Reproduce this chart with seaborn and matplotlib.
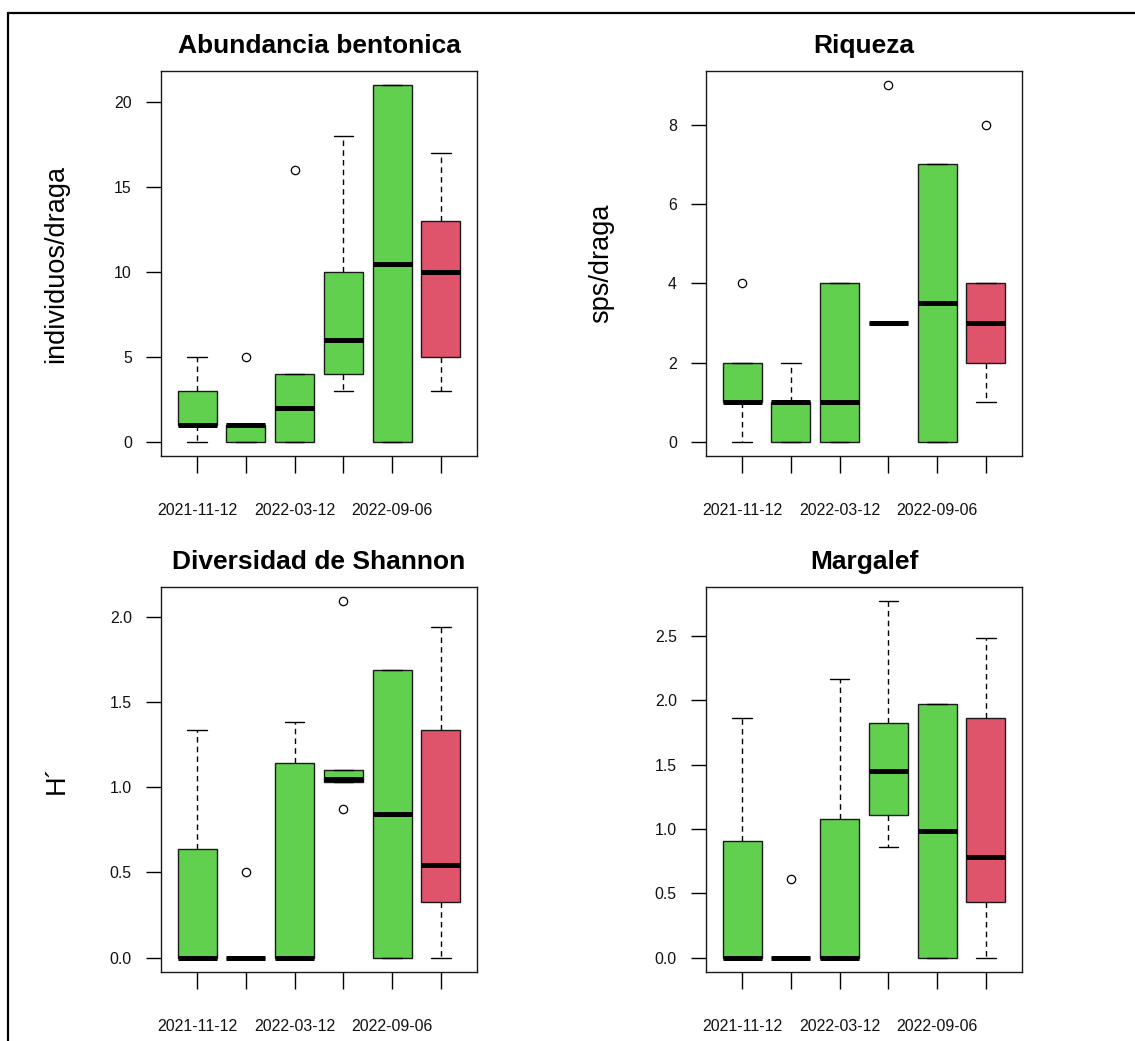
import pandas as pd
import seaborn as sns
import matplotlib.pyplot as plt
from matplotlib.lines import Line2D
from matplotlib.ticker import FixedLocator

# sampling dates (only every other one gets a visible label, as in the original)
fechas = ["2021-11-12", "f2", "2022-03-12", "f4", "2022-09-06", "f6"]
etiquetas = ["2021-11-12", "", "2022-03-12", "", "2022-09-06", ""]
colores = ["#61D04F", "#61D04F", "#61D04F", "#61D04F", "#61D04F", "#DF536B"]

# values per draga, one list per date
abundancia = [[0, 1, 1, 3, 5], [0, 0, 1, 1, 5], [0, 0, 2, 4, 16],
              [3, 4, 6, 10, 18], [0, 0, 10.5, 21, 21], [3, 5, 10, 13, 17]]
riqueza = [[0, 1, 1, 2, 4], [0, 0, 1, 1, 2], [0, 0, 1, 4, 4],
           [3, 3, 3, 3, 9], [0, 0, 3.5, 7, 7], [1, 2, 3, 4, 8]]
shannon = [[0, 0, 0, 0.636, 1.335], [0, 0, 0, 0, 0.5], [0, 0, 0, 1.14, 1.384],
           [0.87, 1.033, 1.05, 1.10, 2.09], [0, 0, 0.843, 1.685, 1.685],
           [0, 0.327, 0.541, 1.335, 1.937]]
margalef = [[0, 0, 0, 0.905, 1.864], [0, 0, 0, 0, 0.613], [0, 0, 0, 1.077, 2.166],
            [0.863, 1.111, 1.449, 1.822, 2.771], [0, 0, 0.988, 1.973, 1.973],
            [0, 0.433, 0.782, 1.864, 2.482]]

yt_abund = [0, 5, 10, 15, 20]
yt_riq = [0, 2, 4, 6, 8]
yt_shan = [0.0, 0.5, 1.0, 1.5, 2.0]
yt_marg = [0.0, 0.5, 1.0, 1.5, 2.0, 2.5]

sns.set_theme(style="white")
plt.rcParams['font.family'] = ['Liberation Sans', 'DejaVu Sans']
plt.rcParams['text.color'] = 'black'
plt.rcParams['axes.labelcolor'] = 'black'
plt.rcParams['xtick.color'] = 'black'
plt.rcParams['ytick.color'] = 'black'

W, H = 1135, 1041
fig = plt.figure(figsize=(W / 100, H / 100), dpi=100)

paneles = [
    ("Abundancia bentonica", "individuos/draga", abundancia, yt_abund, "{:g}", (161, 71)),
    ("Riqueza", "sps/draga", riqueza, yt_riq, "{:g}", (706, 71)),
    ("Diversidad de Shannon", "H\u00b4", shannon, yt_shan, "{:.1f}", (161, 587)),
    ("Margalef", "", margalef, yt_marg, "{:.1f}", (706, 587)),
]

for titulo, ylab, vals, yticks, fmt, (px, py) in paneles:
    ax = fig.add_axes([px / W, 1 - (py + 385) / H, 316 / W, 385 / H])
    df = pd.DataFrame({
        "fecha": [f for f, v in zip(fechas, vals) for _ in v],
        "valor": [x for v in vals for x in v],
    })
    sns.boxplot(data=df, x="fecha", y="valor", hue="fecha", order=fechas,
                hue_order=fechas, palette=colores, legend=False, ax=ax,
                saturation=1, width=0.8, whis=1.5, linecolor="black",
                linewidth=1.0,
                boxprops=dict(edgecolor="#1a1a1a", linewidth=1.0),
                whiskerprops=dict(linestyle=(0, (4, 3)), color="black", linewidth=1.0),
                capprops=dict(color="black", linewidth=1.0),
                medianprops=dict(color="black", linewidth=3.6, solid_capstyle="butt"),
                flierprops=dict(marker="o", markerfacecolor="none",
                                markeredgecolor="black", markersize=6,
                                markeredgewidth=0.9))
    lo, hi = df["valor"].min(), df["valor"].max()
    pad = (hi - lo) * 0.04
    ax.set_ylim(lo - pad, hi + pad)
    ax.set_xlim(-0.74, 5.74)

    ax.yaxis.set_major_locator(FixedLocator(yticks))
    ax.set_yticklabels([fmt.format(t) for t in yticks])
    ax.set_xticks(range(len(fechas)))
    ax.set_xticklabels(etiquetas)
    ax.tick_params(axis="x", direction="out", length=12.5, width=1.0,
                   color="black", pad=21, labelsize=11.4, labelcolor="#111111",
                   bottom=True)
    ax.tick_params(axis="y", direction="out", length=11, width=1.0,
                   color="black", pad=10, labelsize=11.4, labelcolor="#111111",
                   left=True)
    for s in ax.spines.values():
        s.set_color("#1a1a1a")
        s.set_linewidth(1.0)

    ax.set_xlabel("")
    ax.set_ylabel(ylab, fontsize=19.5, color="black")
    ax.yaxis.set_label_coords(-0.29, 0.5)
    ax.set_title(titulo, fontsize=19, fontweight="bold", color="black", pad=13)

# frame of the original screenshot (top and left edges only)
fig.add_artist(Line2D([8 / W, 8 / W], [0, 1 - 13 / H], transform=fig.transFigure,
                      color="black", linewidth=1.6))
fig.add_artist(Line2D([8 / W, 1], [1 - 13 / H, 1 - 13 / H], transform=fig.transFigure,
                      color="black", linewidth=1.6))

fig.savefig("out.png", dpi=100)
plt.close()
